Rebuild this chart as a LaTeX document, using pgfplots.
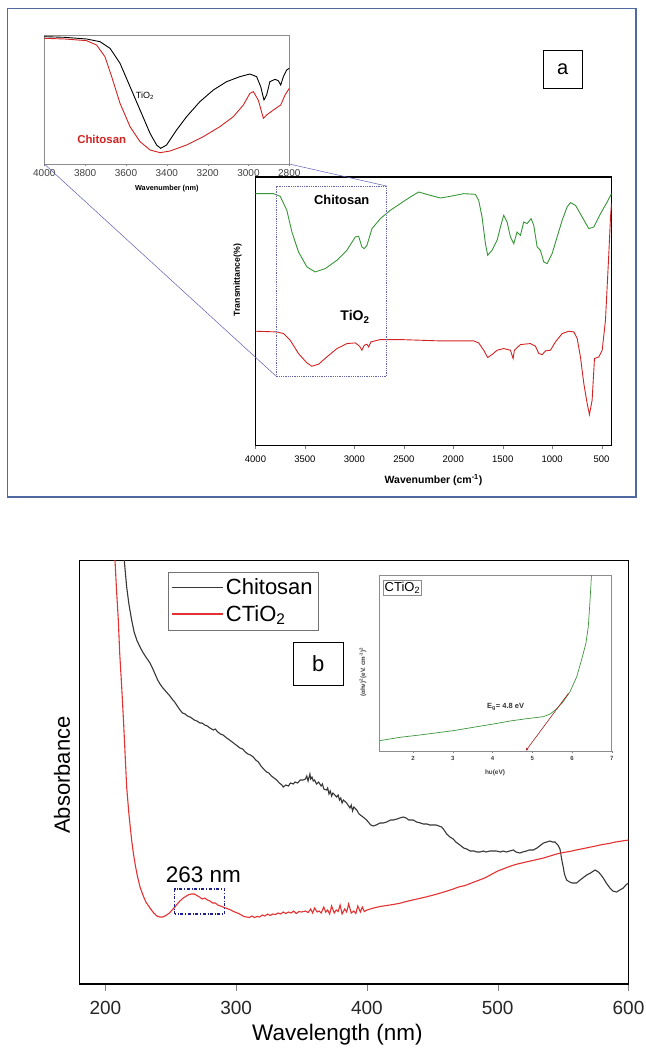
\documentclass[border=0pt]{standalone}
\usepackage{fontspec}
\setmainfont{Liberation Sans}
\usepackage{pgfplots}
\pgfplotsset{compat=1.18}
\usetikzlibrary{arrows.meta}
\definecolor{ftgreen}{RGB}{56,150,56}
\definecolor{ftred}{RGB}{210,35,35}
\definecolor{uvred}{RGB}{228,50,50}
\definecolor{uvblack}{RGB}{55,55,55}
\definecolor{framegray}{RGB}{140,140,140}
\definecolor{panelblue}{RGB}{80,105,160}
\definecolor{zoomblue}{RGB}{95,95,185}
\definecolor{boxnavy}{RGB}{30,30,140}
\definecolor{insgreen}{RGB}{60,150,60}
\begin{document}
\begin{tikzpicture}
\path[use as bounding box] (0,0) rectangle (645pt,-1051pt);
\fill[white] (0,0) rectangle (645pt,-1051pt);
\draw[panelblue, line width=1.6pt] (7.5pt,-8.5pt) rectangle (636pt,-497pt);

% ---------- panel a: inset ----------
\begin{axis}[at={(44.3pt,-35pt)}, anchor=north west, scale only axis,
  width=245pt, height=129pt, x dir=reverse, xmin=2800, xmax=4000, ymin=0, ymax=387,
  xtick={2800,3000,...,4000}, ytick=\empty, xtick pos=bottom, tick align=outside,
  major tick length=2pt, axis line style={framegray, line width=0.7pt},
  axis background/.style={fill=white},
  /pgf/number format/assume math mode=true, /pgf/number format/1000 sep={},
  xticklabel style={font=\fontsize{10}{11}\selectfont, text=black!75},
  xlabel={\textbf{Wavenumber (nm)}},
  xlabel style={at={(axis description cs:0.5,-0.188)}, anchor=center, font=\fontsize{7.3}{8}\selectfont},
  clip=true]
\addplot[black, line width=0.9pt] coordinates {
(4000,382) (3900,380) (3793,375) (3727,367) (3678,347) (3629,302) (3580,232) (3531,162)
(3482,92) (3450,57) (3430,47) (3401,57) (3352,102) (3303,142) (3238,187) (3172,222)
(3107,247) (3042,262) (2993,270) (2960,262) (2940,232) (2924,192) (2911,207) (2895,247)
(2870,254) (2854,250) (2842,237) (2829,262) (2813,282) (2800,287)};
\addplot[ftred, line width=0.9pt] coordinates {
(4000,377) (3900,375) (3793,370) (3744,357) (3703,322) (3670,262) (3629,182) (3580,112)
(3531,67) (3482,42) (3433,34) (3384,39) (3303,57) (3221,82) (3140,112) (3074,142)
(3025,177) (2993,212) (2976,217) (2952,192) (2927,137) (2911,147) (2878,162) (2842,177)
(2821,207) (2800,227)};
\node[font=\fontsize{9}{10}\selectfont] at (axis cs:3507,204) {TiO\textsubscript{2}};
\node[font=\bfseries\fontsize{11.4}{12}\selectfont, text=ftred] at (axis cs:3719,74) {Chitosan};
\coordinate (iBL) at (axis cs:4000,0);
\coordinate (iBR) at (axis cs:2800,0);
\end{axis}

% ---------- panel a: main ----------
\begin{axis}[at={(255.5pt,-177pt)}, anchor=north west, scale only axis,
  width=356pt, height=268.5pt, x dir=reverse, xmin=400, xmax=4000, ymin=0, ymax=806,
  xtick={500,1000,...,4000}, ytick=\empty, xtick pos=bottom, tick align=outside,
  major tick length=3pt, axis line style={line width=1.1pt},
  /pgf/number format/assume math mode=true, /pgf/number format/1000 sep={},
  xticklabel style={font=\fontsize{9.5}{10}\selectfont, yshift=-3.5pt},
  xlabel={\textbf{Wavenumber (cm\textsuperscript{-1})}},
  xlabel style={at={(axis description cs:0.5,-0.1285)}, anchor=center, font=\fontsize{10.5}{12}\selectfont},
  ylabel={\textbf{Transmittance(\%)}},
  ylabel style={at={(axis description cs:-0.05,0.616)}, anchor=center, font=\fontsize{8.7}{10}\selectfont},
  clip=true]
\addplot[ftgreen, line width=0.9pt] coordinates {
(4000,756) (3818,756) (3750,748) (3683,706) (3632,641) (3565,581) (3480,536) (3396,521)
(3295,531) (3177,556) (3076,586) (2991,626) (2957,628) (2924,596) (2900,591) (2873,601)
(2822,651) (2738,681) (2637,706) (2536,726) (2434,746) (2350,761) (2316,758) (2232,751)
(2131,743) (2030,748) (1895,756) (1777,754) (1743,736) (1709,686) (1675,606) (1652,571)
(1608,586) (1557,616) (1523,656) (1490,691) (1456,671) (1422,626) (1388,606) (1355,641)
(1321,631) (1287,671) (1254,666) (1213,681) (1186,661) (1152,596) (1119,586) (1085,551)
(1051,546) (1000,576) (950,626) (899,676) (849,716) (815,729) (764,721) (697,686)
(629,651) (579,656) (511,696) (444,731) (400,756)};
\addplot[ftred, line width=0.9pt] coordinates {
(4000,343) (3784,341) (3717,336) (3649,316) (3565,276) (3480,248) (3430,238) (3362,244)
(3278,266) (3177,291) (3076,306) (2991,308) (2947,298) (2924,286) (2900,301) (2873,304)
(2856,296) (2833,311) (2738,318) (2536,318) (2131,314) (1793,314) (1743,308) (1692,286)
(1652,264) (1608,273) (1557,286) (1490,291) (1422,286) (1395,261) (1382,286) (1321,303)
(1220,306) (1169,298) (1135,276) (1101,273) (1068,284) (1017,286) (967,311) (899,336)
(832,343) (781,341) (747,321) (714,266) (680,186) (646,126) (623,93) (596,136)
(572,261) (528,266) (494,286) (461,376) (427,576) (410,686) (400,726)};
\draw[zoomblue!80!gray, densely dotted, line width=0.8pt] (axis cs:3784,206) rectangle (axis cs:2677,779);
\node[font=\bfseries\fontsize{12.9}{14}\selectfont] at (axis cs:3128,736) {Chitosan};
\node[font=\bfseries\fontsize{14}{15}\selectfont] at (axis cs:2994,386) {TiO\textsubscript{2}};
\coordinate (bBL) at (axis cs:3784,206);
\coordinate (bTR) at (axis cs:2677,779);
\end{axis}
\draw[zoomblue, line width=0.5pt] (iBL) -- (bBL);
\draw[zoomblue, line width=0.5pt] (iBR) -- (bTR);

% label a
\draw[black, line width=0.9pt] (543pt,-50.7pt) rectangle (582.6pt,-88.7pt);
\node[font=\fontsize{20}{22}\selectfont] at (562.8pt,-69.7pt) {a};

% ---------- panel b: main ----------
\begin{axis}[at={(79.2pt,-560.7pt)}, anchor=north west, scale only axis,
  width=549.3pt, height=423.3pt, xmin=180, xmax=600, ymin=0, ymax=423.3,
  xtick={200,300,...,600}, ytick=\empty, xtick pos=bottom, tick align=outside,
  major tick length=7pt, axis line style={line width=1.2pt},
  /pgf/number format/assume math mode=true,
  xticklabel style={font=\fontsize{19}{20}\selectfont, text=black!85, yshift=-7pt},
  xlabel={Wavelength (nm)},
  xlabel style={at={(axis description cs:0.47,-0.1205)}, anchor=center, font=\fontsize{22.5}{24}\selectfont},
  ylabel={Absorbance},
  ylabel style={at={(axis description cs:-0.0313,0.4937)}, anchor=center, font=\fontsize{22}{24}\selectfont},
  legend image code/.code={\draw[#1, line width=1.4pt] (0pt,0pt) -- (51pt,0pt);},
  legend style={at={(axis description cs:0.1622,0.974)}, anchor=north west, draw=black!55,
    font=\fontsize{22}{24}\selectfont, inner xsep=3pt, inner ysep=5pt, row sep=5pt,
    /tikz/every even column/.append style={column sep=4pt}},
  legend cell align=left,
  clip=true]
\addplot[uvblack, line width=1.1pt] coordinates {
(213.8,440) (214.5,423) (216.3,397) (218,380) (220.1,364) (222,352) (224,344) (226.5,337)
(229,331) (231,327) (234.1,321) (236,316) (238,310) (240,304) (241.8,300) (244,296)
(246,293) (248,290) (249.4,288) (251,285) (253,282) (255,278) (257.1,274) (259,271)
(261,270) (262.7,268) (264.7,267) (266,266) (268,264) (270,263) (272.4,261) (274,261)
(276,259) (278,258) (280,256) (282.5,254) (284,255) (286,252) (288,250) (290,249)
(292.8,246) (295,244) (297,242) (299,240) (301,238) (302.9,236) (305,235) (307,232)
(309,230) (311,229) (313.1,227) (315,224) (317,222) (319,218) (321,215) (323.3,212)
(325,211) (327,208) (329,206) (331,204) (333,201) (335,199) (336,197) (338,199)
(340,198) (341.5,201) (343.7,200) (345,202) (347,201) (349,204) (351.3,204) (353,205)
(354,208) (355,203) (356.4,210) (357,205) (358,207) (359,203) (360,204) (361.5,200)
(363,202) (365,198) (366,200) (367,195) (369.2,194) (370,196) (371,190) (372,193)
(373,188) (374,191) (376.9,187) (378,189) (379,184) (380,186) (381,181) (382,184)
(384.5,181) (386,178) (387,176) (388,179) (389,173) (390,177) (392.2,174) (394,170)
(396,168) (398,166) (399.8,164) (401,162) (403,159) (404.9,158) (407,159) (410,161)
(412.5,161) (415,162) (418,164) (420.2,164) (423,165) (425,166) (427.8,167) (430,166)
(432,164) (435.4,164) (438,162) (441,161) (443.1,160) (446,160) (448,159) (450.7,159)
(453,159) (455,158) (457.1,157) (459,154) (461,150) (463.5,147) (466,145) (468,142)
(471.1,139) (474,136) (476.3,135) (479,133) (482,133) (484,132) (486.4,132) (489,133)
(491,132) (494,133) (496.6,133) (499,133) (502,132) (504,133) (506.8,132) (509,133)
(512,134) (514,132) (517,131) (519,132) (522,133) (524,134) (527.2,134) (530,136)
(533,139) (535,141) (537.4,142) (540,143) (542,142) (543.8,142) (546,139) (547.6,135)
(548.5,128) (549.3,122) (550.1,117) (551,110) (552.7,104) (555,102) (557,101) (560.3,101)
(563,104) (566,107) (568,109) (571,111) (574.4,114) (577,112) (579,109) (580.7,106)
(583,101) (585.8,96) (588,93) (590.9,92) (593.4,94) (596,96) (598,99) (600,101)};
\addlegendentry{Chitosan}
\addplot[uvred, line width=1.1pt] coordinates {
(205.5,470) (207.4,423) (208.5,395) (209.9,364) (211,330) (212.5,297) (214,260) (216.3,197)
(218,170) (220,145) (221.4,131) (223,118) (224.5,108) (226.5,97) (229,88) (231,82)
(234.1,76) (237,71) (239.5,68) (241.8,67) (244,67) (246.9,69) (249,71) (251,74)
(253.2,77) (255,80) (257,83) (259.6,86) (262,88) (264,89.5) (266,90) (268,90)
(270,88.5) (272,87) (274,85) (276,86) (278,84) (280,83) (282,81) (284,81)
(286,79) (288,78) (290,77) (292,76) (294,75) (296,74) (298,72.5) (300,71.5)
(302,70.5) (304,69) (306,67.5) (308,67) (310,66.5) (312,68) (314,66.5) (316,67.5)
(318,67) (320,69) (322,68) (324,70) (326,68.5) (328,70) (330,69.5) (332,71)
(334,70) (336,72) (338,70.5) (340,72) (342,71) (344,73) (346,70.5) (348,72.5)
(350,72) (353,73) (355,71.5) (357,75) (358.5,71) (360,76) (362,72) (363.5,73)
(365,71) (367,77) (368.5,72) (370,74) (371.5,70) (373,78) (375,71) (376.5,74)
(378,72.5) (379.5,79) (381,70) (383,75) (384.5,72) (386,80) (388,71) (390,73)
(391.5,70.5) (393,78) (395,72) (396.5,77) (398,72.5) (400,74) (405,76) (410,77.5)
(415,78.5) (420,79.5) (425,80.7) (430,82.5)
(435,84) (440,85.5) (445,87) (450,88.7) (455,90.5) (460,92.5) (465,94.5) (470,97)
(475,98.5) (480,101) (485,103.5) (490,106) (495,109.5) (500,113) (505,115.5) (510,118)
(515,120) (520,121.5) (525,123) (530,124.5) (535,126) (540,128) (545,130) (550,131.5)
(555,132.5) (560,134) (565,135.3) (570,136.7) (575,138) (580,139.5) (585,140.5) (590,142)
(595,143) (600,144)};
\addlegendentry{CTiO\textsubscript{2}}
\draw[boxnavy, dash dot, line width=1.1pt] (axis cs:253,70) rectangle (axis cs:291,95);
\node[font=\fontsize{22.5}{24}\selectfont] at (axis cs:275,109) {263 nm};
\end{axis}

% label b
\draw[black, line width=1pt] (293.3pt,-642.3pt) rectangle (343.3pt,-685pt);
\node[font=\fontsize{22}{24}\selectfont] at (318.3pt,-663.6pt) {b};

% ---------- panel b: inset ----------
\begin{axis}[at={(379.3pt,-575.7pt)}, anchor=north west, scale only axis,
  width=232.4pt, height=175.3pt, xmin=1.15, xmax=7, ymin=0, ymax=526,
  xtick={2,3,...,7}, ytick=\empty, xtick pos=bottom, tick align=outside,
  major tick length=2pt, axis line style={framegray, line width=0.7pt},
  axis background/.style={fill=white},
  /pgf/number format/assume math mode=true,
  xticklabel style={font=\bfseries\fontsize{6}{7}\selectfont, text=black!75},
  xlabel={\textbf{hυ(eV)}},
  xlabel style={at={(axis description cs:0.498,-0.1255)}, anchor=center, font=\fontsize{6.5}{7}\selectfont, text=black!75},
  ylabel={\textbf{(αhν)\textsuperscript{2}(eV. cm\textsuperscript{-1})\textsuperscript{2}}},
  ylabel style={at={(axis description cs:-0.07,0.45)}, anchor=center, font=\fontsize{6.3}{7}\selectfont, text=black!75},
  clip=true]
\addplot[insgreen, line width=0.7pt] coordinates {
(1.16,31) (1.66,41) (2.17,48) (3.01,61) (3.51,71) (4.02,81) (4.44,90) (4.86,97)
(5.28,103) (5.45,111) (5.61,126) (5.78,148) (5.95,178) (6.12,223) (6.24,273) (6.35,323)
(6.41,373) (6.45,443) (6.49,526) (6.51,560)};
\addplot[ftred!80!black, line width=0.6pt, -{Stealth[length=3pt,width=2.5pt]}] coordinates {(5.91,173) (4.84,1)};
\node[font=\bfseries\fontsize{7.5}{8}\selectfont, text=black!80] at (axis cs:4.33,131) {E\textsubscript{g}= 4.8 eV};
\node[draw=framegray, anchor=north west, inner sep=1.5pt, font=\fontsize{13}{14}\selectfont] at (rel axis cs:0.016,0.975) {CTiO\textsubscript{2}};
\end{axis}
\end{tikzpicture}
\end{document}
